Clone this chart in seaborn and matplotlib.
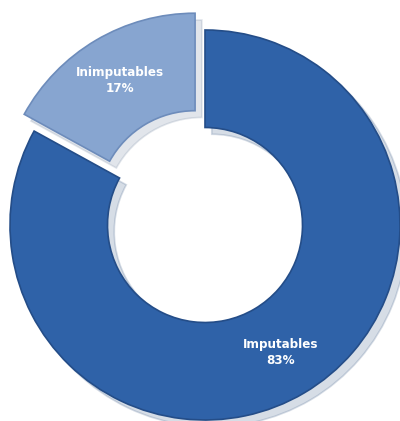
import matplotlib
matplotlib.use("Agg")
import matplotlib.pyplot as plt
import seaborn as sns

categories = ["Imputables", "Inimputables"]
values = [83, 17]
colors = ["#2f62a8", "#87a5d0"]

sns.set_theme(style="white")
plt.rcParams['font.family'] = ['DejaVu Sans']

fig = plt.figure(figsize=(4.0, 4.21), dpi=100)
ax = fig.add_axes([0, 0, 1, 1])
ax.set_aspect('equal')
ax.axis('off')

labels = [f"{c}\n{v}%" for c, v in zip(categories, values)]
wedges, texts = ax.pie(values, labels=labels, colors=colors, startangle=90,
                       counterclock=False, explode=[0, 0.1], radius=1.0,
                       labeldistance=0.76,
                       wedgeprops=dict(width=0.5, edgecolor="#244d88", linewidth=1.2),
                       shadow=dict(ox=0.025, oy=-0.025, shade=0.3, alpha=0.18),
                       textprops=dict(color="white", fontsize=9.5, fontweight="bold",
                                      fontstretch="condensed",
                                      ha="center", va="center"))
for t in texts:
    t.set_horizontalalignment("center")
    t.set_multialignment("center")
    t.set_linespacing(1.25)
wedges[1].set_edgecolor("#6d8cbb")

ax.set_xlim(-205/195, 195/195)
ax.set_ylim(-196/195, 225/195)
fig.savefig("out.png", dpi=100, facecolor="white")
